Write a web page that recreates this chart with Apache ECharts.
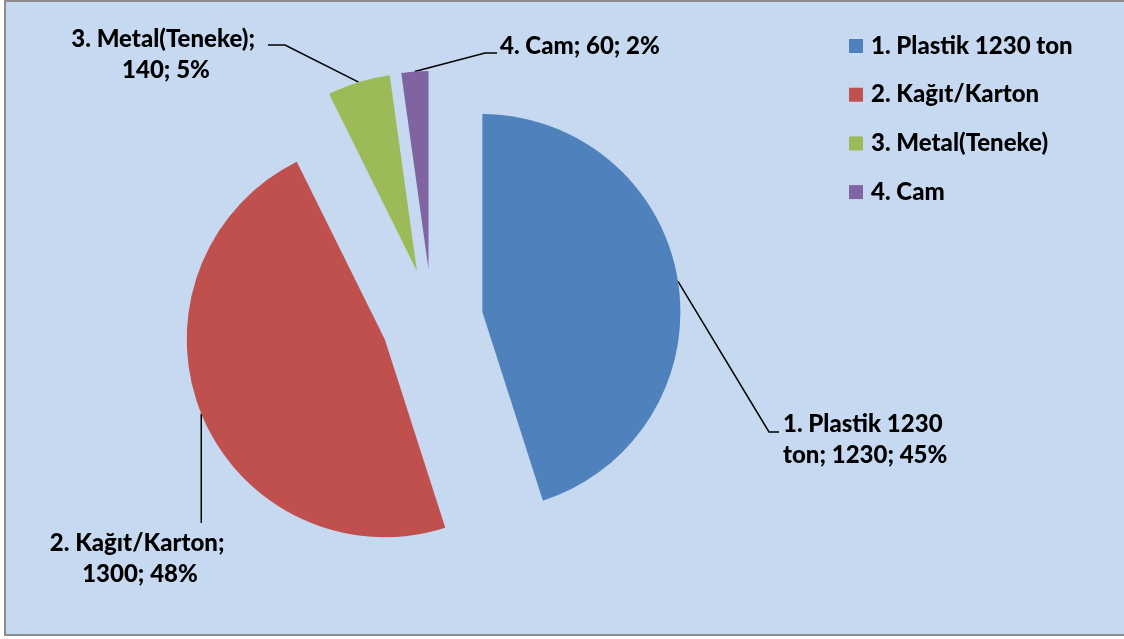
<!DOCTYPE html>
<html>
<head>
<meta charset="utf-8">
<title>Atık Dağılımı</title>
<script src="https://cdn.jsdelivr.net/npm/echarts@6/dist/echarts.min.js"></script>
<style>
  html, body { margin: 0; padding: 0; background: #ffffff; }
  #chart { width: 1124px; height: 639px; }
</style>
</head>
<body>
<div id="chart"></div>
<script>
// Waste amounts by material (tons)
var categories = ['1. Plastik 1230 ton', '2. Kağıt/Karton', '3. Metal(Teneke)', '4. Cam'];
var amounts = [1230, 1300, 140, 60];
var sliceColors = ['#4F81BD', '#C0504D', '#9BBB59', '#8064A2'];

var FONT = 'Lato';
var FONT_WEIGHT = 900;
var PIE_CENTER = [432, 320];
var PIE_RADIUS = 198;
var EXPLODE = 51;

// Where each callout sits and how its leader line bends
// (a null x in elbow/end means "straight down from the slice edge")
var callouts = [
  { x: 783, y: 440, align: 'left',   width: 185, elbow: [769, 432],  end: [779, 432] },
  { x: 140, y: 559, align: 'center', width: 220, elbow: [null, 480], end: [null, 523] },
  { x: 166, y: 55,  align: 'center', width: 220, elbow: [285, 45],   end: [268, 45] },
  { x: 500, y: 46,  align: 'left',   width: 300, elbow: [485, 53],   end: [497, 53] }
];

var total = amounts.reduce(function (a, b) { return a + b; }, 0);

// Each slice is its own pie series, pushed out from the common centre
// along the bisector of its wedge (angles clockwise from 12 o'clock).
var series = [];
var cumulative = 0;
categories.forEach(function (name, k) {
  var mid = (cumulative + amounts[k] / 2) / total * Math.PI * 2;
  cumulative += amounts[k];
  var c = callouts[k];
  series.push({
    type: 'pie',
    name: name,
    center: [PIE_CENTER[0] + EXPLODE * Math.sin(mid), PIE_CENTER[1] - EXPLODE * Math.cos(mid)],
    radius: PIE_RADIUS,
    startAngle: 90,
    clockwise: true,
    avoidLabelOverlap: false,
    emphasis: { disabled: true },
    data: categories.map(function (n, i) {
      var own = i === k;
      return {
        name: n,
        value: amounts[i],
        itemStyle: { color: own ? sliceColors[i] : 'rgba(0,0,0,0)' },
        label: own
          ? { show: true, width: c.width, overflow: 'break', align: c.align }
          : { show: false },
        labelLine: { show: own },
        silent: !own
      };
    }),
    label: {
      position: 'outside',
      fontFamily: FONT,
      fontWeight: FONT_WEIGHT,
      fontSize: 24,
      lineHeight: 31,
      color: '#000000',
      formatter: function (p) {
        return p.name + '; ' + p.value + '; ' + Math.round(p.percent) + '%';
      }
    },
    labelLine: {
      length: 20,
      length2: 10,
      lineStyle: { color: '#000000', width: 1.5 }
    },
    labelLayout: function (p) {
      var pts = p.labelLinePoints;
      var out = { x: c.x, y: c.y, align: c.align, verticalAlign: 'middle' };
      if (pts) {
        var fix = function (q) { return [q[0] == null ? pts[0][0] : q[0], q[1]]; };
        out.labelLinePoints = [pts[0], fix(c.elbow), fix(c.end)];
      }
      return out;
    }
  });
});

var chart = echarts.init(document.getElementById('chart'), null, { renderer: 'canvas' });

chart.setOption({
  animation: false,
  backgroundColor: '#ffffff',
  graphic: {
    elements: [{
      type: 'rect',
      z: -10,
      silent: true,
      shape: { x: 5, y: 1, width: 1140, height: 634 },
      style: { fill: '#C6D9F0', stroke: '#8C8C8C', lineWidth: 2 }
    }]
  },
  legend: {
    orient: 'vertical',
    left: 844,
    top: 29,
    itemWidth: 14,
    itemHeight: 14,
    itemGap: 24.7,
    icon: 'rect',
    selectedMode: false,
    data: categories.map(function (n, i) {
      return { name: n, itemStyle: { color: sliceColors[i] } };
    }),
    textStyle: {
      fontFamily: FONT,
      fontWeight: FONT_WEIGHT,
      fontSize: 24,
      color: '#000000',
      lineHeight: 24,
      padding: [0, 0, 0, 3]
    }
  },
  series: series
});
</script>
</body>
</html>
